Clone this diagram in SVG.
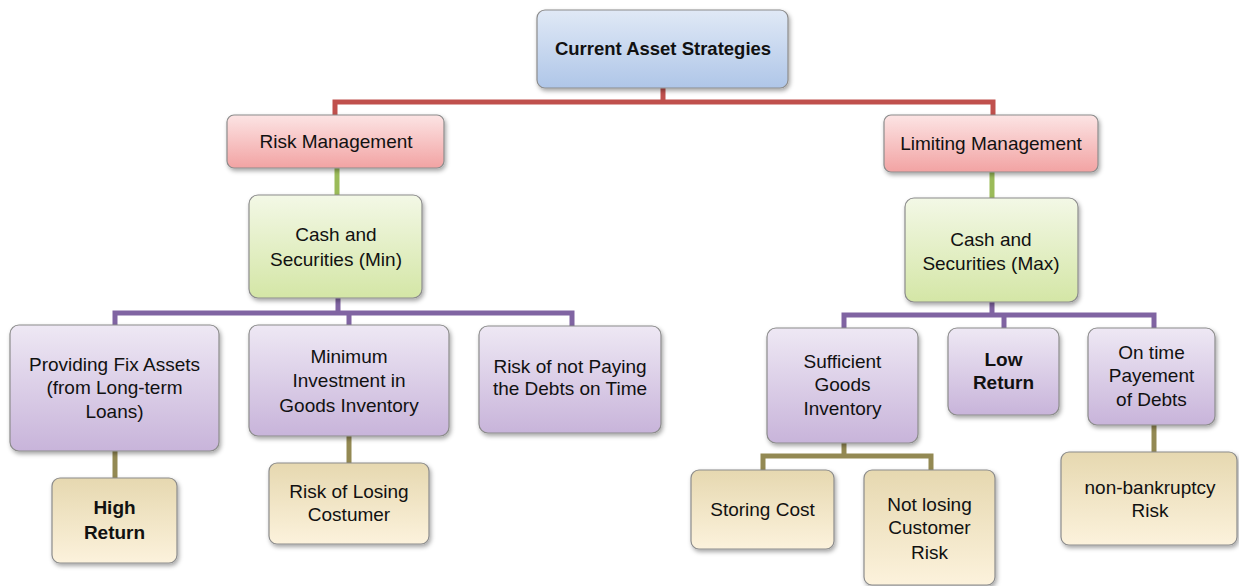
<svg xmlns="http://www.w3.org/2000/svg" width="1239" height="586" viewBox="0 0 1239 586">
<style>
text{font-family:"Liberation Sans",Arial,sans-serif;font-size:19px;fill:#111;text-anchor:middle}
.b{font-weight:bold}
.t{font-weight:bold;font-size:18.5px}
rect{stroke:#8c8c8c;stroke-width:1.2;filter:url(#sh)}
.conn path{fill:none;stroke-width:5;stroke-linejoin:miter}
</style>
<defs>
<filter id="sh" x="-10%" y="-10%" width="125%" height="130%">
<feDropShadow dx="1.5" dy="2.5" stdDeviation="2" flood-color="#000" flood-opacity="0.35"/>
</filter>
<linearGradient id="gBlue" x1="0" y1="0" x2="0" y2="1"><stop offset="0" stop-color="#e0e9f6"/><stop offset="1" stop-color="#afc6e8"/></linearGradient>
<linearGradient id="gRed" x1="0" y1="0" x2="0" y2="1"><stop offset="0" stop-color="#fce4e4"/><stop offset="1" stop-color="#f2a3a3"/></linearGradient>
<linearGradient id="gGreen" x1="0" y1="0" x2="0" y2="1"><stop offset="0" stop-color="#f3f8e6"/><stop offset="1" stop-color="#d4e6a6"/></linearGradient>
<linearGradient id="gPurple" x1="0" y1="0" x2="0" y2="1"><stop offset="0" stop-color="#eee8f4"/><stop offset="1" stop-color="#c8b4da"/></linearGradient>
<linearGradient id="gTan" x1="0" y1="0" x2="0" y2="1"><stop offset="0" stop-color="#e6d8b0"/><stop offset="1" stop-color="#fcf2dc"/></linearGradient>
</defs>
<g class="conn" id="connectors">
<path d="M663,88 V102 M335,117 V102 H993 V117" stroke="#c0504d"/>
<path d="M337,168 V195 M992,172 V198" stroke="#9bbb59"/>
<path d="M338,298 V313 M115,327 V313 H572 V327 M349,313 V327" stroke="#8064a2"/>
<path d="M992,302 V315 M844,330 V315 H1154 V330 M1004,315 V330" stroke="#8064a2"/>
<path d="M115,451 V478 M349,436 V463" stroke="#938953"/>
<path d="M844,443 V456 M763,472 V456 H931 V472 M1154,425 V452" stroke="#938953"/>
</g>
<g id="n-root"><rect x="537" y="10" width="251" height="78" rx="8" fill="url(#gBlue)"/><text class="t" x="663" y="55">Current Asset Strategies</text></g>
<g id="n-risk"><rect x="227" y="115" width="217" height="53" rx="7" fill="url(#gRed)"/><text x="336" y="148">Risk Management</text></g>
<g id="n-limit"><rect x="884" y="115" width="214" height="57" rx="7" fill="url(#gRed)"/><text x="991" y="150">Limiting Management</text></g>
<g id="n-cashmin"><rect x="249" y="195" width="173" height="103" rx="9" fill="url(#gGreen)"/><text x="336" y="241">Cash and</text><text x="336" y="266">Securities (Min)</text></g>
<g id="n-cashmax"><rect x="905" y="198" width="173" height="104" rx="9" fill="url(#gGreen)"/><text x="991" y="246">Cash and</text><text x="991" y="270">Securities (Max)</text></g>
<g id="n-fix"><rect x="10" y="325" width="209" height="126" rx="9" fill="url(#gPurple)"/><text x="114.5" y="371">Providing Fix Assets</text><text x="114.5" y="394">(from Long-term</text><text x="114.5" y="418">Loans)</text></g>
<g id="n-mininv"><rect x="249" y="325" width="200" height="111" rx="9" fill="url(#gPurple)"/><text x="349" y="363">Minimum</text><text x="349" y="387">Investment in</text><text x="349" y="412">Goods Inventory</text></g>
<g id="n-notpay"><rect x="479" y="326" width="182" height="107" rx="9" fill="url(#gPurple)"/><text x="570" y="373">Risk of not Paying</text><text x="570" y="395">the Debts on Time</text></g>
<g id="n-suff"><rect x="767" y="328" width="151" height="115" rx="9" fill="url(#gPurple)"/><text x="842.5" y="368">Sufficient</text><text x="842.5" y="391">Goods</text><text x="842.5" y="415">Inventory</text></g>
<g id="n-low"><rect x="948" y="328" width="111" height="87" rx="9" fill="url(#gPurple)"/><text class="b" x="1003.5" y="366">Low</text><text class="b" x="1003.5" y="389">Return</text></g>
<g id="n-ontime"><rect x="1088" y="328" width="127" height="97" rx="9" fill="url(#gPurple)"/><text x="1151.5" y="359">On time</text><text x="1151.5" y="382">Payement</text><text x="1151.5" y="406">of Debts</text></g>
<g id="n-high"><rect x="52" y="478" width="125" height="85" rx="8" fill="url(#gTan)"/><text class="b" x="114.5" y="514">High</text><text class="b" x="114.5" y="539">Return</text></g>
<g id="n-losing"><rect x="269" y="463" width="160" height="81" rx="8" fill="url(#gTan)"/><text x="349" y="498">Risk of Losing</text><text x="349" y="521">Costumer</text></g>
<g id="n-storing"><rect x="691" y="470" width="143" height="79" rx="8" fill="url(#gTan)"/><text x="762.5" y="516">Storing Cost</text></g>
<g id="n-notlosing"><rect x="864" y="470" width="131" height="115" rx="8" fill="url(#gTan)"/><text x="929.5" y="511">Not losing</text><text x="929.5" y="534">Customer</text><text x="929.5" y="559">Risk</text></g>
<g id="n-nonbank"><rect x="1061" y="452" width="176" height="93" rx="8" fill="url(#gTan)"/><text x="1150" y="494">non-bankruptcy</text><text x="1150" y="517">Risk</text></g>
</svg>
